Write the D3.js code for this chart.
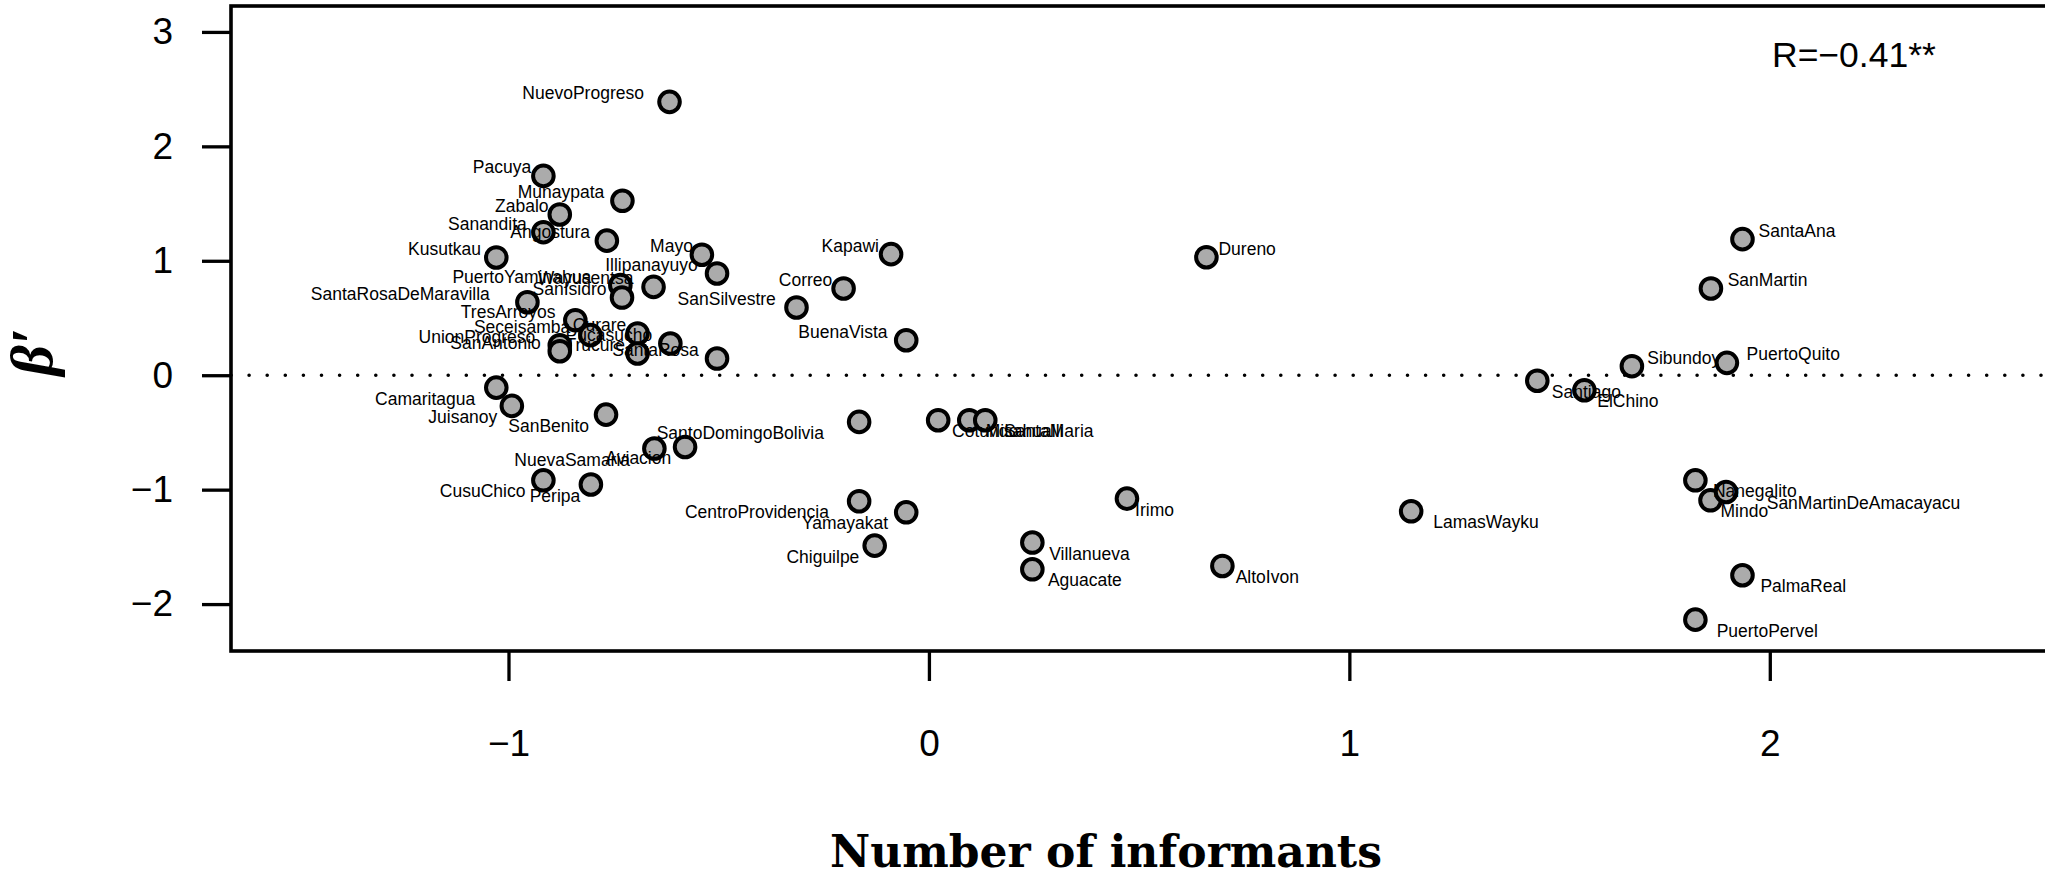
<!DOCTYPE html>
<html>
<head>
<meta charset="utf-8">
<script src="https://cdn.jsdelivr.net/npm/d3@7"></script>
<style>
  html, body { margin: 0; padding: 0; background: #ffffff; }
  svg { display: block; }
</style>
</head>
<body>
<svg id="chart" width="2045" height="878"></svg>
<script>
// Community names, standardized number of informants (x) and beta' (y)
const sites = [
  "NuevoProgreso", "Pacuya", "Munaypata", "Zabalo", "Sanandita", "Angostura",
  "Kusutkau", "Mayo", "Illipanayuyo", "PuertoYaminahua", "Wayusentsa", "SanIsidro",
  "SanSilvestre", "SantaRosaDeMaravilla", "TresArroyos", "Seceisamba", "Curare",
  "UnionProgreso", "SanAntonio", "Pucasucho", "Trucure", "SantaRosa", "Correo",
  "Kapawi", "BuenaVista", "Camaritagua", "Juisanoy", "SanBenito", "NuevaSamaria",
  "Aviacion", "SantoDomingoBolivia", "CusuChico", "Peripa", "CentroProvidencia",
  "Yamayakat", "Chiguilpe", "Cotundo", "Misahualli", "SantaMaria", "Dureno",
  "Irimo", "Villanueva", "Aguacate", "AltoIvon", "LamasWayku", "Santiago",
  "ElChino", "Sibundoy", "PuertoQuito", "SantaAna", "SanMartin", "Nanegalito",
  "Mindo", "SanMartinDeAmacayacu", "PalmaReal", "PuertoPervel"
];
const informants = [
  -0.617, -0.917, -0.729, -0.878, -0.917, -0.766,
  -1.029, -0.540, -0.504, -0.734, -0.655, -0.730,
  -0.315, -0.955, -0.841, -0.805, -0.693,
  -0.878, -0.878, -0.615, -0.693, -0.504, -0.203,
  -0.090, -0.054, -1.029, -0.992, -0.768, -0.653,
  -0.580, -0.166, -0.917, -0.804, -0.166,
  -0.054, -0.129, 0.022, 0.096, 0.134, 0.660,
  0.471, 0.246, 0.246, 0.698, 1.147, 1.447,
  1.559, 1.672, 1.898, 1.935, 1.860, 1.823,
  1.859, 1.896, 1.935, 1.823
];
const betaPrime = [
  2.389, 1.742, 1.524, 1.405, 1.250, 1.176,
  1.029, 1.053, 0.889, 0.787, 0.772, 0.679,
  0.592, 0.638, 0.481, 0.350, 0.365,
  0.262, 0.210, 0.277, 0.190, 0.146, 0.758,
  1.058, 0.306, -0.108, -0.268, -0.344, -0.641,
  -0.627, -0.408, -0.918, -0.955, -1.101,
  -1.198, -1.489, -0.393, -0.393, -0.393, 1.031,
  -1.078, -1.462, -1.696, -1.667, -1.189, -0.048,
  -0.131, 0.079, 0.108, 1.189, 0.758, -0.918,
  -1.093, -1.020, -1.748, -2.136
];
const xTicks = [-1, 0, 1, 2];
const yTicks = [-2, -1, 0, 1, 2, 3];
const xTitle = "Number of informants";
const yTitle = "\u03B2\u2032";
const corrLabel = "R=\u22120.41**";

const points = sites.map((name, i) => ({ name, x: informants[i], y: betaPrime[i] }));

const svg = d3.select("#chart");
const plot = { left: 231, top: 6, right: 2062, bottom: 651 };

const x = d3.scaleLinear().domain([-1.66, 2.695]).range([plot.left, plot.right]);
const y = d3.scaleLinear().domain([-2.41, 3.2265]).range([plot.bottom, plot.top]);

const sansFont = "'Liberation Sans', Arial, Helvetica, sans-serif";
const serifFont = "'DejaVu Serif', 'Liberation Serif', serif";

// y axis
const yAxis = svg.append("g")
  .attr("transform", `translate(${plot.left},0)`)
  .call(d3.axisLeft(y).tickValues(yTicks).tickSize(29).tickPadding(29).tickFormat(d3.format("d")));
yAxis.select(".domain").remove();
yAxis.selectAll(".tick line").attr("stroke", "#000").attr("stroke-width", 3.3);
yAxis.selectAll(".tick text")
  .attr("fill", "#000")
  .style("font-family", sansFont)
  .style("font-size", "37px");

// x axis
const xAxis = svg.append("g")
  .attr("transform", `translate(0,${plot.bottom})`)
  .call(d3.axisBottom(x).tickValues(xTicks).tickSize(30).tickPadding(49).tickFormat(d3.format("d")));
xAxis.select(".domain").remove();
xAxis.selectAll(".tick line").attr("stroke", "#000").attr("stroke-width", 3.3);
xAxis.selectAll(".tick text")
  .attr("fill", "#000")
  .style("font-family", sansFont)
  .style("font-size", "37px");

// zero reference line
svg.append("line")
  .attr("x1", plot.left).attr("x2", plot.right)
  .attr("y1", y(0)).attr("y2", y(0))
  .attr("stroke", "#000")
  .attr("stroke-width", 3.6)
  .attr("stroke-linecap", "round")
  .attr("stroke-dasharray", "0 18.1");

// plot frame
svg.append("rect")
  .attr("x", plot.left).attr("y", plot.top)
  .attr("width", plot.right - plot.left).attr("height", plot.bottom - plot.top)
  .attr("fill", "none")
  .attr("stroke", "#000")
  .attr("stroke-width", 3.6);

// points
svg.append("g").selectAll("circle")
  .data(points)
  .join("circle")
  .attr("cx", d => x(d.x))
  .attr("cy", d => y(d.y))
  .attr("r", 10.3)
  .attr("fill", "#ababab")
  .attr("stroke", "#000")
  .attr("stroke-width", 4);

// site labels: left of the point for negative x, right for positive;
// above for positive beta', below for negative
const labels = svg.append("g").selectAll("text")
  .data(points)
  .join("text")
  .text(d => d.name)
  .style("font-family", sansFont)
  .style("font-size", "17.5px")
  .attr("fill", "#000")
  .attr("text-anchor", d => d.x < 0 ? "end" : "start")
  .attr("y", d => d.y >= 0 ? y(d.y) - 2.5 : y(d.y) + 17);
labels.each(function(d) {
  const w = this.getComputedTextLength();
  const shift = 0.21 * w;
  d3.select(this).attr("x", d.x < 0 ? x(d.x) - shift : x(d.x) + shift);
});

// correlation annotation
svg.append("text")
  .attr("x", 1772).attr("y", 66.5)
  .style("font-family", sansFont)
  .style("font-size", "35.5px")
  .attr("fill", "#000")
  .text(corrLabel);

// axis titles
svg.append("text")
  .attr("x", 1106).attr("y", 867)
  .attr("text-anchor", "middle")
  .style("font-family", serifFont)
  .style("font-weight", "bold")
  .style("font-size", "44px")
  .attr("fill", "#000")
  .text(xTitle);

svg.append("text")
  .attr("transform", "translate(52,352) rotate(-90)")
  .attr("text-anchor", "middle")
  .style("font-family", "'Liberation Serif', 'DejaVu Serif', serif")
  .style("font-weight", "bold")
  .style("font-style", "italic")
  .style("font-size", "60px")
  .attr("fill", "#000")
  .text(yTitle);
</script>
</body>
</html>
